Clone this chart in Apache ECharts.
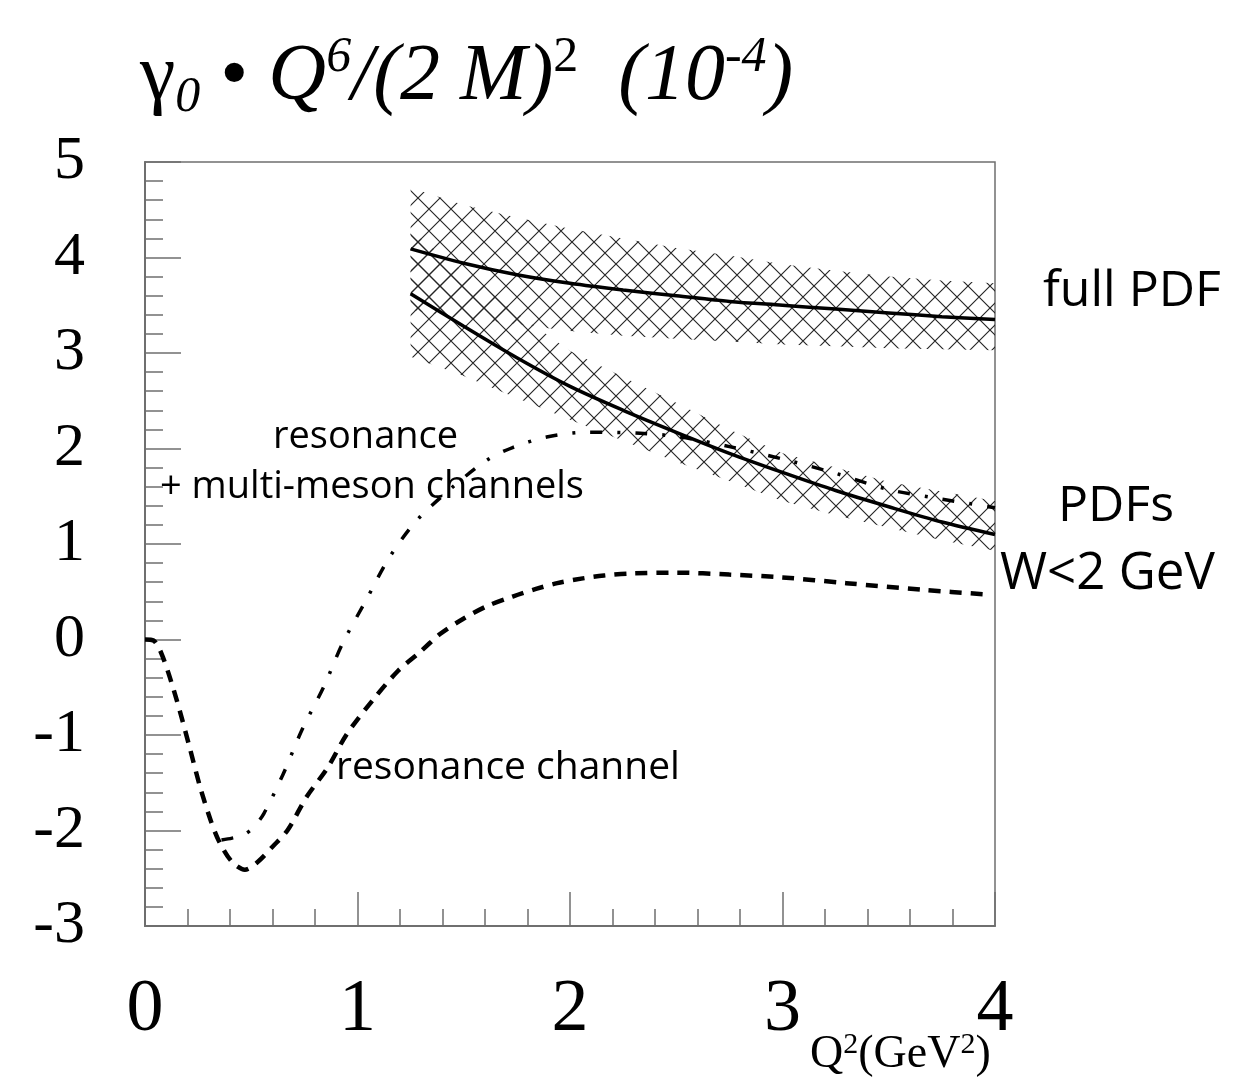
<!DOCTYPE html>
<html>
<head>
<meta charset="utf-8">
<script src="https://cdn.jsdelivr.net/npm/echarts@6/dist/echarts.min.js"></script>
<style>
  html, body { margin: 0; padding: 0; background: #ffffff; }
  #chart { width: 1241px; height: 1078px; }
</style>
</head>
<body>
<div id="chart"></div>
<script>
// Q^2 grid (GeV^2) on which the PDF-based curves and their error bands are given
const q2Band = [1.25, 1.5, 1.75, 2.0, 2.25, 2.5, 2.75, 3.0, 3.25, 3.5, 3.75, 4.0];

// full PDF: central curve and band edges
const fullPdf   = [4.09, 3.94, 3.82, 3.73, 3.66, 3.60, 3.54, 3.50, 3.46, 3.42, 3.38, 3.35];
const fullPdfHi = [4.73, 4.55, 4.42, 4.30, 4.20, 4.10, 4.02, 3.93, 3.86, 3.80, 3.76, 3.73];
const fullPdfLo = [3.45, 3.36, 3.30, 3.23, 3.18, 3.15, 3.12, 3.09, 3.07, 3.05, 3.04, 3.03];

// PDFs restricted to W < 2 GeV: central curve and band edges
const lowW   = [3.62, 3.28, 2.95, 2.65, 2.40, 2.17, 1.95, 1.75, 1.56, 1.39, 1.23, 1.10];
const lowWHi = [4.28, 3.85, 3.42, 3.02, 2.75, 2.48, 2.20, 1.95, 1.80, 1.65, 1.55, 1.45];
const lowWLo = [2.96, 2.76, 2.53, 2.30, 2.08, 1.86, 1.66, 1.45, 1.30, 1.17, 1.04, 0.93];

// resonance channel (dashed)
const resQ2  = [0, 0.04, 0.085, 0.15, 0.21, 0.26, 0.31, 0.35, 0.41, 0.47, 0.53, 0.60, 0.67, 0.76, 0.86, 0.95,
                1.07, 1.19, 1.29, 1.39, 1.50, 1.61, 1.73, 1.84, 1.94, 2.06, 2.16, 2.27, 2.50, 2.75, 3.00, 3.30, 3.66, 3.97];
const resVal = [0, -0.01, -0.19, -0.64, -1.13, -1.55, -1.90, -2.12, -2.33, -2.41, -2.33, -2.17, -2.00, -1.65, -1.34, -0.99,
                -0.64, -0.33, -0.14, 0.06, 0.22, 0.35, 0.45, 0.53, 0.59, 0.64, 0.67, 0.69, 0.70, 0.68, 0.65, 0.59, 0.52, 0.47];

// resonance + multi-meson channels (dash-dot)
const multiQ2  = [0.36, 0.41, 0.46, 0.51, 0.56, 0.65, 0.74, 0.84, 0.93, 1.04, 1.15, 1.28, 1.45, 1.61, 1.73,
                  1.89, 2.08, 2.33, 2.52, 2.75, 3.00, 3.25, 3.50, 3.75, 4.00];
const multiVal = [-2.10, -2.08, -2.05, -1.97, -1.82, -1.41, -0.94, -0.50, -0.04, 0.41, 0.86, 1.25, 1.60, 1.88, 2.01,
                  2.12, 2.17, 2.16, 2.12, 2.02, 1.89, 1.74, 1.57, 1.47, 1.38];

// axis ticks
const xTicks = { min: 0, max: 4, step: 1 };
const yTicks = { min: -3, max: 5, step: 1 };

const pairs = (xs, ys) => xs.map((x, i) => [x, ys[i]]);

// cross-hatch fill for the error bands
function makeHatch(size) {
  const c = document.createElement('canvas');
  c.width = size; c.height = size;
  const g = c.getContext('2d');
  g.strokeStyle = '#262626';
  g.lineWidth = 1.15;
  for (const off of [-size, 0, size]) {
    g.beginPath();
    g.moveTo(off, 0); g.lineTo(off + size, size);
    g.moveTo(off, size); g.lineTo(off + size, 0);
    g.stroke();
  }
  return { image: c, repeat: 'repeat' };
}
const hatch = makeHatch(22);

function bandSeries(name, lo, hi) {
  return {
    type: 'custom',
    name: name,
    silent: true,
    z: 1,
    data: q2Band.map((q, i) => [q, lo[i], hi[i]]),
    encode: { x: 0, y: [1, 2] },
    renderItem: function (params, api) {
      if (params.dataIndex !== 0) return null;
      const top = q2Band.map((q, i) => api.coord([q, hi[i]]));
      const bot = q2Band.map((q, i) => api.coord([q, lo[i]])).reverse();
      return {
        type: 'polygon',
        shape: { points: top.concat(bot) },
        style: { fill: hatch, stroke: null }
      };
    }
  };
}

const axisGray = '#6f6f6f';
const chart = echarts.init(document.getElementById('chart'), null, { renderer: 'canvas' });

chart.setOption({
  animation: false,
  backgroundColor: '#ffffff',
  grid: {
    left: 145, top: 162, width: 850, height: 764,
    show: true, borderColor: axisGray, borderWidth: 1.5,
    backgroundColor: 'transparent',
    containLabel: false,
    outerBoundsMode: 'none'
  },
  xAxis: {
    type: 'value', min: xTicks.min, max: xTicks.max, interval: xTicks.step,
    axisLine: { show: true, onZero: false, lineStyle: { color: axisGray, width: 2 } },
    axisTick: { show: true, inside: true, length: 34, lineStyle: { color: axisGray, width: 1.5 } },
    minorTick: { show: true, splitNumber: 5, length: 17, lineStyle: { color: axisGray, width: 1.5 } },
    splitLine: { show: false }, minorSplitLine: { show: false },
    axisLabel: { fontFamily: 'Liberation Serif', fontSize: 74, color: '#000', margin: 48 }
  },
  yAxis: {
    type: 'value', min: yTicks.min, max: yTicks.max, interval: yTicks.step,
    axisLine: { show: true, onZero: false, lineStyle: { color: axisGray, width: 2 } },
    axisTick: { show: true, inside: true, length: 36, lineStyle: { color: axisGray, width: 1.5 } },
    minorTick: { show: true, splitNumber: 5, length: 18, lineStyle: { color: axisGray, width: 1.5 } },
    splitLine: { show: false }, minorSplitLine: { show: false },
    axisLabel: { fontFamily: 'Liberation Serif', fontSize: 62, color: '#000', margin: 60 }
  },
  series: [
    bandSeries('full PDF band', fullPdfLo, fullPdfHi),
    bandSeries('W<2 GeV band', lowWLo, lowWHi),
    {
      type: 'line', name: 'full PDF', data: pairs(q2Band, fullPdf), z: 3,
      showSymbol: false, smooth: 0.3,
      lineStyle: { color: '#000', width: 3.5 }
    },
    {
      type: 'line', name: 'PDFs W<2 GeV', data: pairs(q2Band, lowW), z: 3,
      showSymbol: false, smooth: 0.3,
      lineStyle: { color: '#000', width: 3.5 }
    },
    {
      type: 'line', name: 'resonance channel', data: pairs(resQ2, resVal), z: 3,
      showSymbol: false, smooth: 0.3,
      lineStyle: { color: '#000', width: 4.5, type: [12, 9], cap: 'butt' }
    },
    {
      type: 'line', name: 'resonance + multi-meson channels', data: pairs(multiQ2, multiVal), z: 3,
      showSymbol: false, smooth: 0.3,
      lineStyle: { color: '#000', width: 3.5, type: [12, 15, 3, 15], cap: 'butt' }
    }
  ],
  graphic: [
    {
      type: 'text', x: 140, y: 33, silent: true,
      style: {
        text: '{g|γ}{sub|0}{g| • }{i|Q}{sup|6}{i|/(2 M)}{supu|2}{i|  (10}{sup|-4}{i|)}',
        textVerticalAlign: 'top',
        rich: {
          g: { fontFamily: 'Liberation Serif', fontSize: 80, lineHeight: 90, fill: '#000', verticalAlign: 'middle' },
          i: { fontFamily: 'Liberation Serif', fontStyle: 'italic', fontSize: 80, lineHeight: 90, fill: '#000', verticalAlign: 'middle' },
          sub: { fontFamily: 'Liberation Serif', fontStyle: 'italic', fontSize: 50, lineHeight: 10, fill: '#000', verticalAlign: 'bottom' },
          sup: { fontFamily: 'Liberation Serif', fontStyle: 'italic', fontSize: 50, lineHeight: 50, fill: '#000', verticalAlign: 'top' },
          supu: { fontFamily: 'Liberation Serif', fontSize: 50, lineHeight: 50, fill: '#000', verticalAlign: 'top' }
        }
      }
    },
    {
      type: 'text', x: 810, y: 1030, silent: true,
      style: {
        text: '{a|Q}{s|2}{a|(GeV}{s|2}{a|)}',
        textVerticalAlign: 'top',
        rich: {
          a: { fontFamily: 'Liberation Serif', fontSize: 46, lineHeight: 50, fill: '#000', verticalAlign: 'middle' },
          s: { fontFamily: 'Liberation Serif', fontSize: 30, lineHeight: 30, fill: '#000', verticalAlign: 'top' }
        }
      }
    },
    { type: 'text', x: 1043, y: 292, silent: true,
      style: { text: 'full PDF', font: '50px "Open Sans"', fill: '#000', textVerticalAlign: 'middle' } },
    { type: 'text', x: 1116, y: 507, silent: true,
      style: { text: 'PDFs', font: '50px "Open Sans"', fill: '#000', textAlign: 'center', textVerticalAlign: 'middle' } },
    { type: 'text', x: 1000, y: 574, silent: true,
      style: { text: 'W<2 GeV', font: '51px "Open Sans"', fill: '#000', textVerticalAlign: 'middle' } },
    { type: 'text', x: 273, y: 437, silent: true,
      style: { text: 'resonance', font: '38px "Open Sans"', fill: '#000', textVerticalAlign: 'middle' } },
    { type: 'text', x: 160, y: 487, silent: true,
      style: { text: '+ multi-meson channels', font: '38px "Open Sans"', fill: '#000', textVerticalAlign: 'middle' } },
    { type: 'text', x: 336, y: 768, silent: true,
      style: { text: 'resonance channel', font: '39px "Open Sans"', fill: '#000', textVerticalAlign: 'middle' } }
  ]
});
</script>
</body>
</html>
